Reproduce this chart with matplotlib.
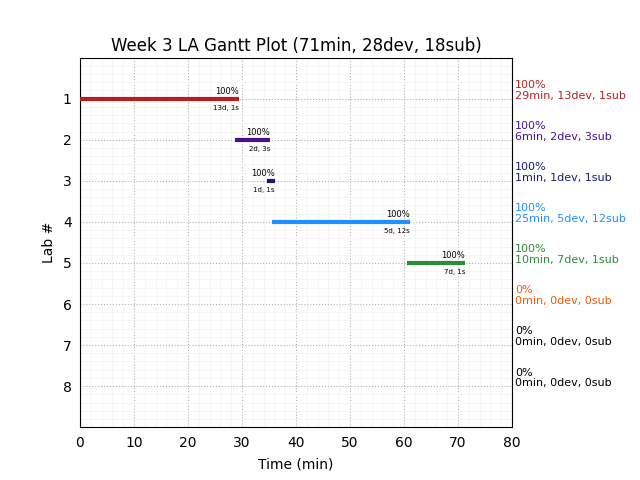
import numpy as np
import matplotlib
matplotlib.use('Agg')
import matplotlib.pyplot as plt
from matplotlib.ticker import MultipleLocator

labs = [1, 2, 3, 4, 5, 6, 7, 8]
starts = [0.0, 28.7, 34.6, 35.6, 60.6]
ends = [29.4, 35.2, 36.1, 61.1, 71.3]
bar_notes = ['13d, 1s', '2d, 3s', '1d, 1s', '5d, 12s', '7d, 1s']
pcts = ['100%', '100%', '100%', '100%', '100%', '0%', '0%', '0%']
side_notes = ['29min, 13dev, 1sub', '6min, 2dev, 3sub', '1min, 1dev, 1sub',
              '25min, 5dev, 12sub', '10min, 7dev, 1sub', '0min, 0dev, 0sub',
              '0min, 0dev, 0sub', '0min, 0dev, 0sub']
colors = ['#b22222', '#4b0f96', '#191970', '#1e90ff', '#2e8b3a',
          '#f05a0a', 'black', 'black']

fig = plt.figure(figsize=(6.4, 4.8), dpi=100)
ax = fig.add_axes([0.125, 0.11, 0.675, 0.77])

for i in range(len(starts)):
    y = labs[i]
    ax.hlines(y, starts[i], ends[i], color=colors[i], linewidth=3, zorder=3)
    ax.text(ends[i], y - 0.06, pcts[i], fontsize=6, ha='right', va='bottom')
    ax.text(ends[i], y + 0.15, bar_notes[i], fontsize=5, ha='right', va='top')

for i in range(len(labs)):
    ax.text(1.007, (9 - labs[i] + 0.2) / 9.0, pcts[i] + '\n' + side_notes[i],
            transform=ax.transAxes, fontsize=8, color=colors[i],
            ha='left', va='center', linespacing=1.1)

ax.set_xlim(0, 80)
ax.set_ylim(9, 0)
ax.set_yticks(labs)
ax.xaxis.set_minor_locator(MultipleLocator(2))
ax.yaxis.set_minor_locator(MultipleLocator(0.2))
ax.grid(which='major', color='#b0b0b0', linestyle=':', linewidth=0.8)
ax.grid(which='minor', color='#f4f4f4', linestyle='-', linewidth=0.6)
ax.set_axisbelow(True)
ax.tick_params(which='both', length=0, labelsize=10, pad=6)
ax.set_xlabel('Time (min)', fontsize=10, labelpad=6)
ax.set_ylabel('Lab #', fontsize=10, labelpad=5)
ax.set_title('Week 3 LA Gantt Plot (71min, 28dev, 18sub)', fontsize=12, pad=5)

fig.savefig('out.png', dpi=100)
